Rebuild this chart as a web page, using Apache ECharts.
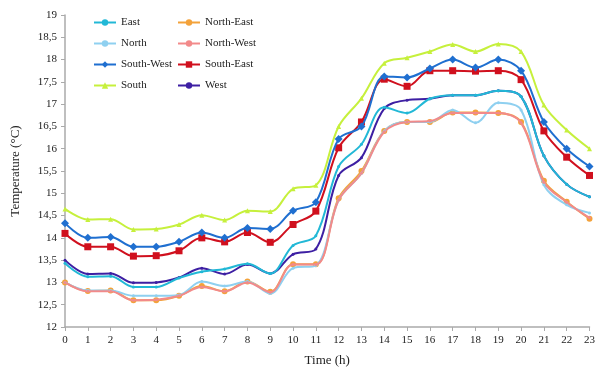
<!DOCTYPE html>
<html>
<head>
<meta charset="utf-8">
<script src="https://cdn.jsdelivr.net/npm/echarts@6/dist/echarts.min.js"></script>
<style>html,body{margin:0;padding:0;background:#fff}#c{width:598px;height:372px}</style>
</head>
<body>
<div id="c"></div>
<script>
var hours = ['0','1','2','3','4','5','6','7','8','9','10','11','12','13','14','15','16','17','18','19','20','21','22','23'];
var east = [13.43,13.13,13.14,12.9,12.9,13.1,13.24,13.3,13.42,13.2,13.83,14.05,15.6,16.1,16.93,16.8,17.12,17.2,17.2,17.3,17.17,15.84,15.2,14.92];
var north = [13.0,12.82,12.82,12.7,12.7,12.72,13.02,12.92,13.02,12.75,13.32,13.38,14.85,15.45,16.4,16.6,16.6,16.87,16.58,17.03,16.87,15.19,14.74,14.56];
var southWest = [14.33,14.0,14.02,13.8,13.8,13.91,14.12,14.0,14.22,14.2,14.61,14.8,16.22,16.5,17.62,17.6,17.8,18.0,17.82,18.0,17.75,16.6,16.0,15.6];
var south = [14.65,14.41,14.42,14.19,14.2,14.3,14.51,14.4,14.61,14.59,15.1,15.18,16.5,17.13,17.92,18.04,18.18,18.34,18.18,18.35,18.18,16.98,16.42,16.0];
var northEast = [13.0,12.81,12.82,12.6,12.6,12.7,12.92,12.8,13.02,12.79,13.41,13.41,14.89,15.5,16.4,16.6,16.6,16.81,16.81,16.8,16.6,15.28,14.81,14.43];
var northWest = [13.0,12.8,12.8,12.6,12.61,12.7,12.9,12.8,13.0,12.78,13.4,13.4,14.85,15.45,16.38,16.6,16.62,16.8,16.8,16.8,16.58,15.25,14.8,14.45];
var southEast = [14.1,13.8,13.8,13.59,13.6,13.71,14.0,13.91,14.12,13.9,14.3,14.6,16.02,16.6,17.56,17.4,17.75,17.75,17.74,17.75,17.55,16.4,15.81,15.4];
var west = [13.5,13.19,13.2,12.99,13.0,13.11,13.32,13.19,13.4,13.2,13.63,13.75,15.4,15.8,16.9,17.09,17.12,17.2,17.2,17.3,17.17,15.84,15.2,14.92];
var yTicks = ['12','12,5','13','13,5','14','14,5','15','15,5','16','16,5','17','17,5','18','18,5','19'];

var font = 'Liberation Serif';
function mk(name, data, color, symbol, size, z) {
  return {
    name: name, type: 'line', data: data, smooth: 0.35,
    symbol: symbol, symbolSize: size, showSymbol: symbol !== 'none',
    lineStyle: { color: color, width: 2 },
    itemStyle: { color: color },
    z: z
  };
}
var chart = echarts.init(document.getElementById('c'), null, { renderer: 'canvas' });
chart.setOption({
  animation: false,
  backgroundColor: '#fff',
  grid: { left: 65, right: 5, top: 15, bottom: 45, containLabel: false },
  legend: [
    { data: ['East', 'North', 'South-West', 'South'], orient: 'vertical', left: 88, top: 12, itemWidth: 22, itemHeight: 8, itemGap: 10,
      textStyle: { fontFamily: font, fontSize: 11, color: '#222' } },
    { data: ['North-East', 'North-West', 'South-East', 'West'], orient: 'vertical', left: 172, top: 12, itemWidth: 22, itemHeight: 8, itemGap: 10,
      textStyle: { fontFamily: font, fontSize: 11, color: '#222' } }
  ],
  xAxis: {
    type: 'category', data: hours, boundaryGap: false,
    name: 'Time (h)', nameLocation: 'middle', nameGap: 27,
    nameTextStyle: { fontFamily: font, fontSize: 13, color: '#222' },
    axisLine: { lineStyle: { color: '#aaa', width: 1.5 } },
    axisTick: { show: true, alignWithLabel: true, length: 4, lineStyle: { color: '#aaa' } },
    axisLabel: { fontFamily: font, fontSize: 11, color: '#222', margin: 8, interval: 0 },
    splitLine: { show: false }
  },
  yAxis: {
    type: 'value', min: 12, max: 19, interval: 0.5,
    name: 'Temperature (°C)', nameLocation: 'middle', nameGap: 43, nameRotate: 90,
    nameTextStyle: { fontFamily: font, fontSize: 13, color: '#222' },
    axisLine: { show: true, lineStyle: { color: '#aaa', width: 1.5 } },
    axisTick: { show: true, length: 4, lineStyle: { color: '#aaa' } },
    axisLabel: { fontFamily: font, fontSize: 11, color: '#222', margin: 8,
      formatter: function (v) { var i = Math.round((v - 12) / 0.5); return yTicks[i] || ''; } },
    splitLine: { show: false }
  },
  series: [
    mk('East', east, '#22b8d6', 'circle', 3, 5),
    mk('North', north, '#8fd0f0', 'circle', 3, 4),
    mk('South-West', southWest, '#1f6fd0', 'diamond', 8, 6),
    mk('South', south, '#c6f03c', 'triangle', 5, 4),
    mk('North-East', northEast, '#f3a23a', 'circle', 6, 3),
    mk('North-West', northWest, '#f28a8a', 'circle', 3, 4),
    mk('South-East', southEast, '#d0101e', 'rect', 7, 5),
    mk('West', west, '#3d1fa3', 'circle', 3, 2)
  ]
});
</script>
</body>
</html>
